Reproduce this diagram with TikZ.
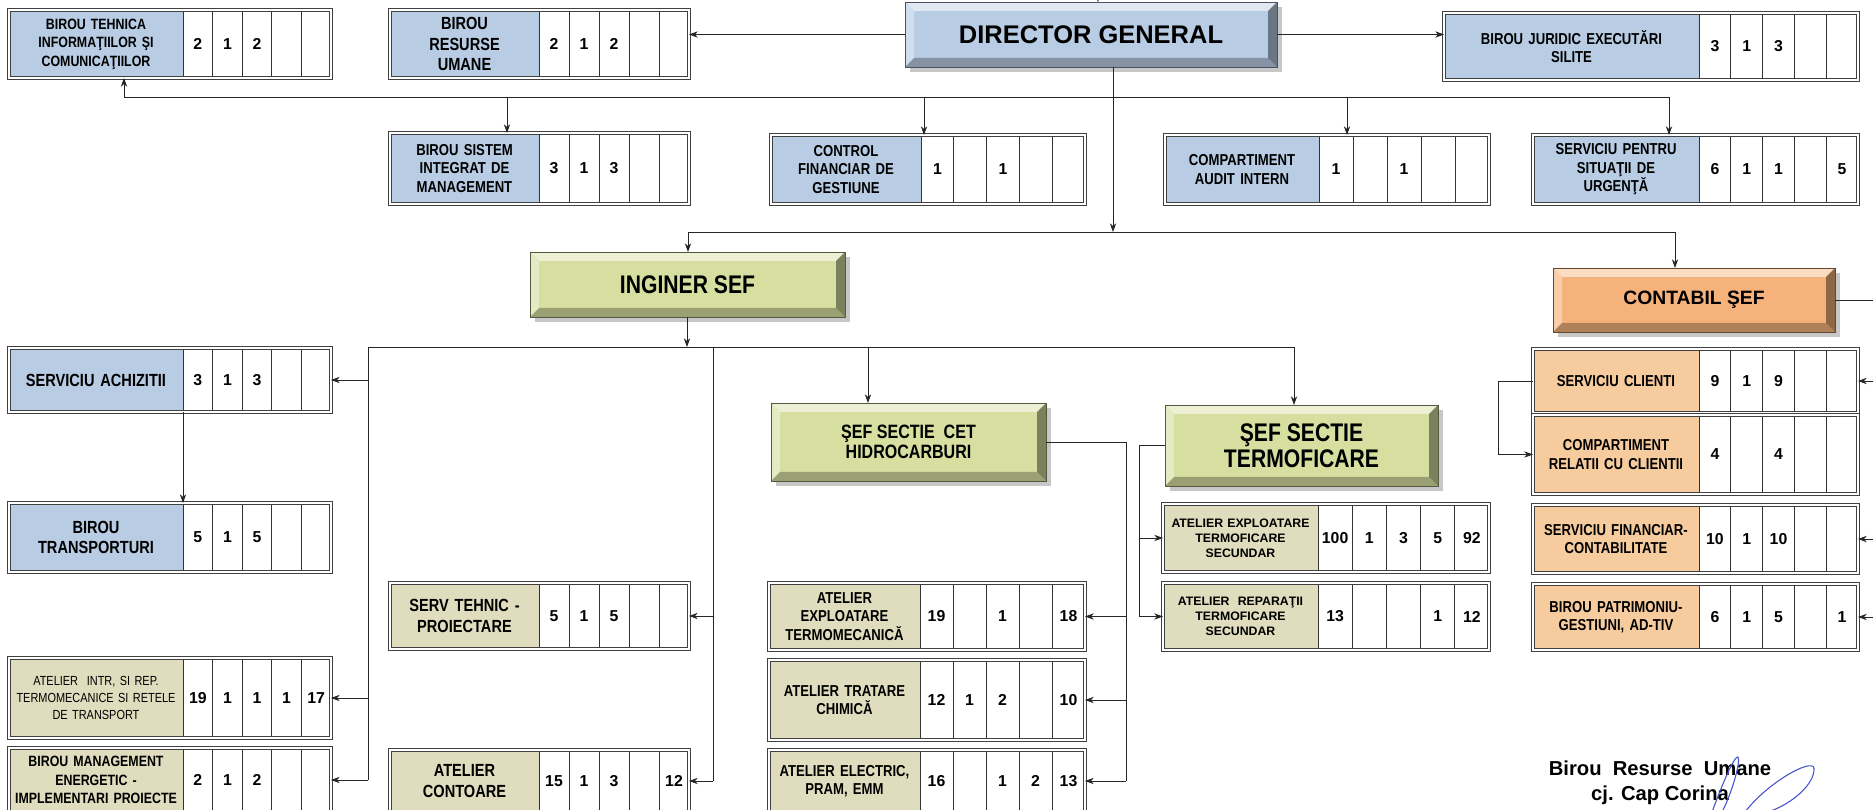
\documentclass[tikz,border=0pt]{standalone}
\usepackage{fontspec}
\setmainfont{Liberation Sans}
\newfontfamily\narrowfont{Liberation Sans}[FakeStretch=0.83]
\usepackage{xcolor}
\usepackage{tikz}
\usetikzlibrary{arrows.meta, calc}

\definecolor{bluefill}{RGB}{184,204,228}
\definecolor{khakifill}{RGB}{224,221,190}
\definecolor{peachfill}{RGB}{246,203,158}
\definecolor{greenfill}{RGB}{214,222,160}
\definecolor{orangefill}{RGB}{245,178,122}
\definecolor{sigblue}{RGB}{70,80,205}

\newlength{\px}
\setlength{\px}{0.02cm}

% staff table: name, x1, y1, x2, y2, label end, label style, label, cells
\newcommand{\staffbox}[9]{%
  \node[framebox, minimum width={(#4-#2)*\px}, minimum height={(#5-#3)*\px}] (#1) at ({(#2+#4)/2},{(#3+#5)/2}) {};
  \node[#7, minimum width={(#6-#2)*\px}, text width={(#6-#2-6)*\px}, minimum height={(#5-#3)*\px}] (#1-lbl) at ({(#2+#6)/2},{(#3+#5)/2}) {#8};
  \pgfmathsetmacro{\cellw}{(#4-#6)/5}
  \foreach \v [count=\i] in {#9}{
    \node[cell, minimum width={\cellw*\px}, minimum height={(#5-#3)*\px}] at ({#6+(\i-0.5)*\cellw},{(#3+#5)/2}) {\v};
  }
  \draw[frameline] (#1.north west) rectangle (#1.south east);
}

% bevelled head box: name, x1, y1, x2, y2, colour, text style, text
\newcommand{\bevelbox}[8]{%
  \fill[black!22] ({#2+5},{#3+5}) rectangle ({#4+5},{#5+5});
  \node[bevel, fill=#6, minimum width={(#4-#2)*\px}, minimum height={(#5-#3)*\px}] (#1) at ({(#2+#4)/2},{(#3+#5)/2}) {};
  \fill[#6!45!white] (#1.north west) -- (#1.north east) -- ($(#1.north east)+(-9,9)$) -- ($(#1.north west)+(9,9)$) -- cycle;
  \fill[#6!65!white] (#1.north west) -- ($(#1.north west)+(9,9)$) -- ($(#1.south west)+(9,-9)$) -- (#1.south west) -- cycle;
  \fill[#6!72!black] (#1.south west) -- ($(#1.south west)+(9,-9)$) -- ($(#1.south east)+(-9,-9)$) -- (#1.south east) -- cycle;
  \fill[#6!58!black] (#1.north east) -- ($(#1.north east)+(-9,9)$) -- ($(#1.south east)+(-9,-9)$) -- (#1.south east) -- cycle;
  \draw[#6!40!black, line width=0.4pt] (#1.north west) rectangle (#1.south east);
  \node[#7, align=center] at (#1) {#8};
}

\begin{document}
\begin{tikzpicture}[
    x=0.02cm, y=-0.02cm,
    framebox/.style={inner sep=0pt, outer sep=0pt},
    frameline/.style={draw=black!75, line width=0.45pt, double=white, double distance=1.1pt},
    cell/.style={draw=black!80, line width=0.4pt, fill=white, inner sep=0pt, outer sep=0pt, font=\bfseries\fontsize{9}{10}\selectfont},
    lbl/.style={inner sep=0pt, outer sep=0pt, align=center, font=\narrowfont\bfseries\fontsize{9}{10.5}\selectfont},
    blbl/.style={lbl, fill=bluefill},
    klbl/.style={lbl, fill=khakifill},
    olbl/.style={lbl, fill=peachfill},
    bigtxt/.style={font=\narrowfont\bfseries\fontsize{10}{11.5}\selectfont},
    smalltxt/.style={font=\narrowfont\bfseries\fontsize{8.5}{10.5}\selectfont},
    thintxt/.style={font=\narrowfont\fontsize{7.5}{9.5}\selectfont},
    widetxt/.style={font=\bfseries\fontsize{7}{8.6}\selectfont},
    bevel/.style={inner sep=0pt, outer sep=0pt},
    dgtxt/.style={font=\bfseries\fontsize{14.5}{16}\selectfont},
    headtxt/.style={font=\narrowfont\bfseries\fontsize{14.5}{14.5}\selectfont},
    cettxt/.style={font=\narrowfont\bfseries\fontsize{11}{11}\selectfont},
    contxt/.style={font=\bfseries\fontsize{11}{13}\selectfont},
    signtxt/.style={font=\bfseries\fontsize{11.5}{13}\selectfont},
    arrow/.style={-{Stealth[length=5pt,width=3.6pt]}, line width=0.5pt, draw=black!85},
    wire/.style={line width=0.5pt, draw=black!85}
]
\useasboundingbox (0,0) rectangle (1873,810);
\fill[white] (0,0) rectangle (1873,810);
\clip (0,0) rectangle (1873,810);

% Head boxes
\bevelbox{dg}{905}{2}{1277}{67}{bluefill}{dgtxt}{DIRECTOR GENERAL}
\bevelbox{inginer}{530}{252}{845}{317}{greenfill}{headtxt}{INGINER SEF}
\bevelbox{cet}{771}{403}{1046}{481}{greenfill}{cettxt}{ŞEF SECTIE~ CET\\HIDROCARBURI}
\bevelbox{termo}{1165}{405}{1438}{486}{greenfill}{headtxt}{ŞEF SECTIE\\TERMOFICARE}
\bevelbox{contabil}{1553}{268}{1835}{332}{orangefill}{contxt}{CONTABIL ŞEF}

% Director row
\staffbox{tehnica}{9}{10}{331}{78}{183}{blbl,smalltxt}{BIROU TEHNICA\\INFORMAŢIILOR ŞI\\COMUNICAŢIILOR}{2,1,2,{},{}}
\staffbox{resurse}{390}{10}{689}{78}{539}{blbl,bigtxt}{BIROU\\RESURSE\\UMANE}{2,1,2,{},{}}
\staffbox{juridic}{1444}{13}{1858}{80}{1699}{blbl}{BIROU JURIDIC EXECUTĂRI\\SILITE}{3,1,3,{},{}}
\staffbox{sistem}{390}{133}{689}{204}{539}{blbl}{BIROU SISTEM\\INTEGRAT DE\\MANAGEMENT}{3,1,3,{},{}}
\staffbox{control}{771}{135}{1085}{204}{921}{blbl}{CONTROL\\FINANCIAR DE\\GESTIUNE}{1,{},1,{},{}}
\staffbox{audit}{1165}{135}{1489}{204}{1319}{blbl}{COMPARTIMENT\\AUDIT INTERN}{1,{},1,{},{}}
\staffbox{situatii}{1533}{135}{1858}{204}{1699}{blbl}{SERVICIU PENTRU\\SITUAŢII DE\\URGENŢĂ}{6,1,1,{},5}

% Inginer sef subordinates
\staffbox{achizitii}{9}{348}{331}{412}{183}{blbl,bigtxt}{SERVICIU ACHIZITII}{3,1,3,{},{}}
\staffbox{transporturi}{9}{503}{331}{572}{183}{blbl,bigtxt}{BIROU\\TRANSPORTURI}{5,1,5,{},{}}
\staffbox{intr}{9}{658}{331}{738}{183}{klbl,thintxt}{ATELIER~ INTR, SI REP.\\TERMOMECANICE SI RETELE\\DE TRANSPORT}{19,1,1,1,17}
\staffbox{management}{9}{748}{331}{812}{183}{klbl,smalltxt}{BIROU MANAGEMENT\\ENERGETIC -\\IMPLEMENTARI PROIECTE}{2,1,2,{},{}}
\staffbox{tehnic}{390}{583}{689}{649}{539}{klbl,bigtxt}{SERV TEHNIC -\\PROIECTARE}{5,1,5,{},{}}
\staffbox{contoare}{390}{750}{689}{812}{539}{klbl,bigtxt}{ATELIER\\CONTOARE}{15,1,3,{},12}
\staffbox{termomec}{769}{583}{1085}{650}{920}{klbl}{ATELIER\\EXPLOATARE\\TERMOMECANICĂ}{19,{},1,{},18}
\staffbox{tratare}{769}{660}{1085}{740}{920}{klbl}{ATELIER TRATARE\\CHIMICĂ}{12,1,2,{},10}
\staffbox{electric}{769}{750}{1085}{812}{920}{klbl}{ATELIER ELECTRIC,\\PRAM, EMM}{16,{},1,2,13}
\staffbox{exploatare}{1163}{504}{1489}{572}{1318}{klbl,widetxt}{ATELIER EXPLOATARE\\TERMOFICARE\\SECUNDAR}{100,1,3,5,92}
\staffbox{reparatii}{1163}{583}{1489}{650}{1318}{klbl,widetxt}{ATELIER~ REPARAŢII\\TERMOFICARE\\SECUNDAR}{13,{},{},1,12}

% Contabil sef subordinates
\staffbox{clienti}{1533}{349}{1858}{413}{1699}{olbl}{SERVICIU CLIENTI}{9,1,9,{},{}}
\staffbox{relatii}{1533}{415}{1858}{494}{1699}{olbl}{COMPARTIMENT\\RELATII CU CLIENTII}{4,{},4,{},{}}
\staffbox{financiar}{1533}{505}{1858}{573}{1699}{olbl}{SERVICIU FINANCIAR-\\CONTABILITATE}{10,1,10,{},{}}
\staffbox{patrimoniu}{1533}{584}{1858}{650}{1699}{olbl}{BIROU PATRIMONIU-\\GESTIUNI, AD-TIV}{6,1,5,{},1}

% Director links
\coordinate (dgin) at (1098,-12);
\draw[arrow] (dgin) -- (dgin |- dg.north);
\draw[arrow] (dg.west) -- (dg.west -| resurse.east);
\draw[arrow] (dg.east) -- (dg.east -| juridic.west);
\coordinate (busA) at (1113,232);
\draw[arrow] (busA |- dg.south) -- (busA);

% Top bus
\coordinate (bus0w) at (124,97);
\coordinate (bus0e) at (1669,97);
\draw[wire] (bus0w) -- (bus0e);
\draw[arrow] (bus0w) -- (bus0w |- tehnica.south);
\foreach \x/\n in {507/sistem, 924/control, 1347/audit} {
  \coordinate (drop) at (\x,97);
  \draw[arrow] (drop) -- (drop |- \n.north);
}
\draw[arrow] (bus0e) -- (bus0e |- situatii.north);

% Second bus
\coordinate (busAw) at (688,232);
\coordinate (busAe) at (1675,232);
\draw[wire] (busAw) -- (busAe);
\draw[arrow] (busAw) -- (busAw |- inginer.north);
\draw[arrow] (busAe) -- (busAe |- contabil.north);

% Inginer sef bus
\coordinate (busB) at (687,347);
\draw[arrow] (busB |- inginer.south) -- (busB);
\coordinate (busBw) at (368,347);
\coordinate (busBe) at (1294,347);
\draw[wire] (busBw) -- (busBe);
\coordinate (dropcet) at (868,347);
\draw[arrow] (dropcet) -- (dropcet |- cet.north);
\draw[arrow] (busBe) -- (busBe |- termo.north);

\draw[wire] (busBw) -- (busBw |- management.east);
\foreach \n in {achizitii, intr, management}
  \draw[arrow] (\n.east -| busBw) -- (\n.east);
\coordinate (vM) at (713,347);
\draw[wire] (vM) -- (vM |- contoare.east);
\foreach \n in {tehnic, contoare}
  \draw[arrow] (\n.east -| vM) -- (\n.east);
\draw[arrow] (achizitii-lbl.south east) -- (achizitii-lbl.south east |- transporturi.north);

% CET workshops
\coordinate (vC) at (1126,0);
\draw[wire] (cet.east) -| (vC |- electric.east);
\foreach \n in {termomec, tratare, electric}
  \draw[arrow] (\n.east -| vC) -- (\n.east);

% Termoficare workshops
\coordinate (vT) at (1139,0);
\draw[wire] (termo.west) -| (vT |- reparatii.west);
\foreach \n in {exploatare, reparatii}
  \draw[arrow] (\n.west -| vT) -- (\n.west);

% Contabil sef links
\coordinate (edgeR) at (1880,0);
\draw[wire] (contabil.east) -- (contabil.east -| edgeR);
\foreach \n in {clienti, financiar, patrimoniu}
  \draw[arrow] (\n.east -| edgeR) -- (\n.east);
\draw[arrow] (clienti.west) -- ++(-35,0) |- (relatii.west);

% Signature
\node[signtxt] (sign1) at (1660,768) {Birou~ Resurse~ Umane};
\node[signtxt] (sign2) at (1660,795) {cj. Cap Corina};
\draw[sigblue, line width=0.6pt] (1712,812) .. controls (1722,785) and (1734,756) .. (1738,757) .. controls (1741,762) and (1731,795) .. (1722,812);
\draw[sigblue, line width=0.6pt] (1745,812) .. controls (1768,782) and (1812,758) .. (1814,768) .. controls (1815,784) and (1792,804) .. (1768,812);
\end{tikzpicture}
\end{document}
